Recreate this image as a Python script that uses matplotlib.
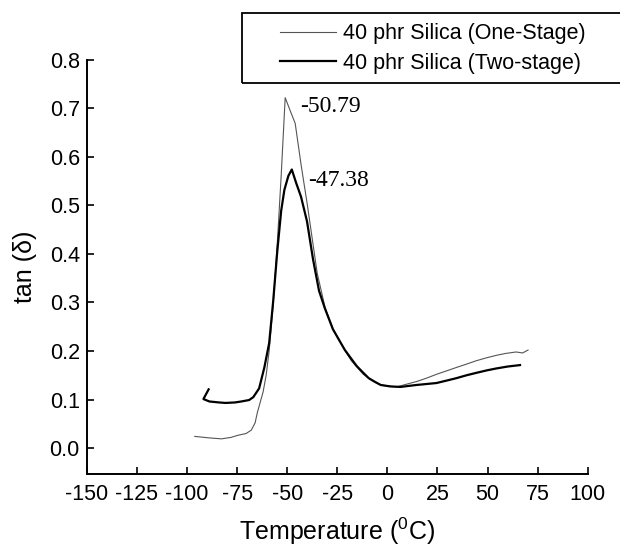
import matplotlib
matplotlib.use("Agg")
import matplotlib.pyplot as plt
from matplotlib.patches import Rectangle

plt.rcParams['font.family'] = ['Liberation Sans', 'DejaVu Sans']
plt.rcParams['mathtext.fontset'] = 'custom'
plt.rcParams['mathtext.rm'] = 'Liberation Sans'
plt.rcParams['axes.unicode_minus'] = False

# One-stage sample (thin grey trace)
one_T = [-96.1, -89.0, -82.8, -78.0, -74.9, -70.5, -67.9, -66.0, -64.9, -62.0, -60.5,
         -59.0, -57.0, -55.0, -53.0, -51.0, -48.0, -46.0, -43.0, -40.0, -37.0, -35.0,
         -31.0, -27.0, -24.0, -21.0, -18.0, -15.0, -12.0, -9.3, -6.5, -3.3, 0.0, 4.6,
         9.0, 14.5, 19.5, 24.5, 29.5, 34.4, 39.5, 44.4, 49.5, 54.3, 59.0, 64.2, 67.5, 70.2]
one_tan = [0.024, 0.021, 0.019, 0.022, 0.026, 0.030, 0.037, 0.052, 0.073, 0.116, 0.150,
           0.200, 0.295, 0.417, 0.561, 0.722, 0.690, 0.669, 0.582, 0.503, 0.417, 0.360,
           0.288, 0.245, 0.222, 0.200, 0.180, 0.166, 0.152, 0.144, 0.136, 0.130, 0.128, 0.126,
           0.131, 0.137, 0.144, 0.152, 0.159, 0.166, 0.173, 0.180, 0.186, 0.191, 0.195, 0.198, 0.196, 0.202]

# Two-stage sample (heavy black trace)
two_T = [-89.2, -91.8, -88.8, -84.0, -80.8, -76.0, -72.9, -69.0, -66.9, -64.0, -61.4,
         -59.0, -57.0, -55.0, -53.0, -51.4, -49.4, -47.7, -45.5, -43.1, -40.1, -37.1,
         -34.1, -31.2, -27.2, -24.0, -21.2, -18.0, -15.3, -12.0, -9.3, -6.0, -3.3, 1.5,
         6.6, 10.5, 14.5, 19.5, 24.5, 29.5, 34.4, 39.5, 44.4, 49.5, 54.3, 60.0, 66.2]
two_tan = [0.121, 0.101, 0.096, 0.094, 0.093, 0.094, 0.096, 0.099, 0.105, 0.123, 0.166,
           0.216, 0.302, 0.403, 0.489, 0.532, 0.561, 0.574, 0.546, 0.518, 0.467, 0.389,
           0.324, 0.288, 0.245, 0.222, 0.202, 0.184, 0.169, 0.155, 0.144, 0.136, 0.130, 0.127,
           0.126, 0.128, 0.130, 0.132, 0.134, 0.139, 0.144, 0.150, 0.155, 0.160, 0.164, 0.168, 0.171]

peak_labels = ["-50.79", "-47.38"]
peak_pos = [(-51.0, 0.722), (-47.7, 0.574)]

x_ticks = [-150, -125, -100, -75, -50, -25, 0, 25, 50, 75, 100]
y_ticks = [0.0, 0.1, 0.2, 0.3, 0.4, 0.5, 0.6, 0.7, 0.8]

fig = plt.figure(figsize=(6.2, 5.49), dpi=100)
ax = fig.add_axes([0.140, 0.137, 0.808, 0.754])

l1, = ax.plot(one_T, one_tan, color='#555555', lw=0.8, label='40 phr Silica (One-Stage)')
l2, = ax.plot(two_T, two_tan, color='black', lw=1.6, label='40 phr Silica (Two-stage)')

ax.set_xlim(-150, 100)
ax.set_ylim(-0.053, 0.8)
ax.set_xticks(x_ticks)
ax.set_yticks(y_ticks)
ax.set_yticklabels([f"{v:.1f}" for v in y_ticks])
ax.tick_params(direction='in', length=5, width=1.2, labelsize=15.5, pad=5)
ax.tick_params(axis='x', pad=7)

for s in ['top', 'right']:
    ax.spines[s].set_visible(False)
for s in ['left', 'bottom']:
    ax.spines[s].set_linewidth(1.4)

ax.set_xlabel(r'Temperature ($\mathregular{^0}$C)', fontsize=18, labelpad=8)
ax.set_ylabel('tan (δ)', fontsize=18, labelpad=9)

# peak temperatures
offsets = [(11, -6.5), (12, -8)]
for lab, (px, py), (dx, dy) in zip(peak_labels, peak_pos, offsets):
    ax.annotate(lab, xy=(px, py), xytext=(dx, dy), textcoords='offset points',
                fontsize=17, family='Liberation Serif', va='center', ha='left')

# legend box running off the right edge
fig.patches.append(Rectangle((0.390, 0.849), 0.7, 0.127, transform=fig.transFigure,
                             fill=False, edgecolor='black', lw=1.3, clip_on=False))
fig.legend(handles=[l1, l2], loc='upper left', bbox_to_anchor=(280 / 620, 1 - 23.5 / 549),
           bbox_transform=fig.transFigure, frameon=False, fontsize=15.5,
           handlelength=2.6, handletextpad=0.33, labelspacing=0.39,
           borderpad=0, borderaxespad=0)

fig.savefig('out.png', dpi=100)
